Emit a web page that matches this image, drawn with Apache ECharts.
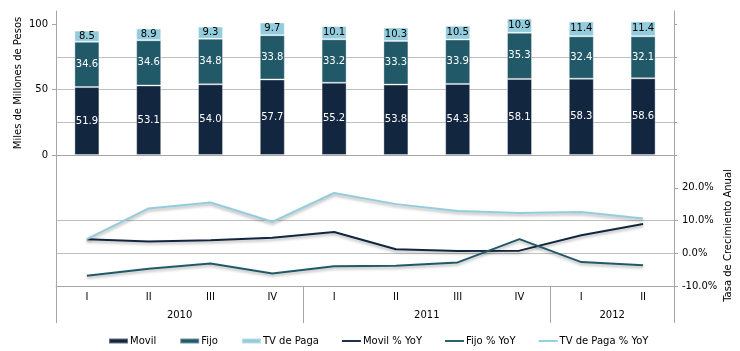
<!DOCTYPE html>
<html>
<head>
<meta charset="utf-8">
<script src="https://cdn.jsdelivr.net/npm/echarts@6/dist/echarts.min.js"></script>
<style>
  html, body { margin: 0; padding: 0; background: #fff; }
  #main { width: 740px; height: 351px; }
</style>
</head>
<body>
<div id="main"></div>
<script>
// categorias (trimestres) y años
const categories = ['I', 'II', 'III', 'IV', 'I', 'II', 'III', 'IV', 'I', 'II'];
const years = ['2010', '2011', '2012'];
const yearCounts = [4, 4, 2];

// ingresos, miles de millones de pesos
const movil = [51.9, 53.1, 54.0, 57.7, 55.2, 53.8, 54.3, 58.1, 58.3, 58.6];
const fijo = [34.6, 34.6, 34.8, 33.8, 33.2, 33.3, 33.9, 35.3, 32.4, 32.1];
const tvPaga = [8.5, 8.9, 9.3, 9.7, 10.1, 10.3, 10.5, 10.9, 11.4, 11.4];

// crecimiento anual, %
const movilYoY = [4.3, 3.6, 4.0, 4.7, 6.5, 1.2, 0.7, 0.8, 5.5, 8.9];
const fijoYoY = [-6.9, -4.7, -3.1, -6.2, -4.0, -3.8, -2.8, 4.3, -2.7, -3.7];
const tvPagaYoY = [4.3, 13.7, 15.5, 9.6, 18.4, 15.0, 12.9, 12.3, 12.6, 10.6];

// ticks
const leftTicks = [0, 50, 100];
const leftGrid = [0, 25, 50, 75, 100];
const rightTicks = [-10, 0, 10, 20];

// limites y centros de cada año (en unidades de categoria)
const yearBounds = [0];
const yearCenters = [];
yearCounts.forEach(function (n, i) {
    yearCenters.push(yearBounds[i] + n / 2);
    yearBounds.push(yearBounds[i] + n);
});

const font = 'DejaVu Sans';
const axisGray = '#a6a6a6';
const gridGray = '#bfbfbf';
const cMovil = '#13263f';
const cFijo = '#215968';
const cTv = '#93cddd';
const lineIcon = 'path://M0,0L20,0L20,2L0,2Z';

const myChart = echarts.init(document.getElementById('main'));

const barLabel = function (color) {
    return {
        show: true,
        position: 'inside',
        color: color,
        fontFamily: font,
        fontSize: 10,
        formatter: function (p) { return p.value.toFixed(1); }
    };
};

const lineSeries = function (name, data, color) {
    return {
        name: name,
        type: 'line',
        xAxisIndex: 1,
        yAxisIndex: 3,
        data: data,
        symbol: 'none',
        color: color,
        lineStyle: {
            width: 2,
            color: color,
            shadowColor: 'rgba(0,0,0,0.3)',
            shadowBlur: 3,
            shadowOffsetY: 2
        }
    };
};

const option = {
    animation: false,
    backgroundColor: '#fff',
    textStyle: { fontFamily: font },
    grid: [
        { left: 56, right: 66, top: 11, height: 144, outerBoundsMode: 'none' },
        { left: 56, right: 66, top: 155, height: 131, outerBoundsMode: 'none' }
    ],
    legend: {
        left: 103,
        top: 331,
        itemWidth: 19,
        itemHeight: 5,
        itemGap: 23,
        textStyle: { fontFamily: font, fontSize: 10, color: '#000', padding: [0, 0, 0, -3] },
        data: [
            { name: 'Movil', icon: 'rect' },
            { name: 'Fijo', icon: 'rect' },
            { name: 'TV de Paga', icon: 'rect' },
            { name: 'Movil % YoY', icon: lineIcon },
            { name: 'Fijo % YoY', icon: lineIcon },
            { name: 'TV de Paga % YoY', icon: lineIcon }
        ]
    },
    xAxis: [
        {
            type: 'category',
            gridIndex: 0,
            data: categories,
            axisLine: { lineStyle: { color: axisGray } },
            axisTick: { length: 3, lineStyle: { color: axisGray } },
            axisLabel: { show: false }
        },
        {
            type: 'category',
            gridIndex: 1,
            data: categories,
            position: 'bottom',
            axisLine: { onZero: false, lineStyle: { color: axisGray } },
            axisTick: { length: 18, lineStyle: { color: axisGray } },
            axisLabel: { margin: 6, color: '#000', fontFamily: font, fontSize: 10 }
        },
        {
            type: 'value',
            gridIndex: 1,
            min: 0,
            max: categories.length,
            position: 'bottom',
            axisLine: { show: false, onZero: false },
            splitLine: { show: false },
            axisTick: { show: true, length: 37, customValues: yearBounds, lineStyle: { color: axisGray } },
            axisLabel: {
                margin: 24,
                color: '#000',
                fontFamily: font,
                fontSize: 10,
                customValues: yearCenters,
                formatter: function (v) {
                    const i = yearCenters.indexOf(v);
                    return i >= 0 ? years[i] : '';
                }
            }
        }
    ],
    yAxis: [
        {
            type: 'value',
            gridIndex: 0,
            position: 'left',
            min: 0,
            max: 110,
            interval: 25,
            name: 'Miles de Millones de Pesos',
            nameLocation: 'middle',
            nameRotate: 90,
            nameGap: 33,
            nameMoveOverlap: false,
            nameTextStyle: { color: '#000', fontFamily: font, fontSize: 10 },
            axisLine: { show: true, lineStyle: { color: axisGray } },
            axisTick: { show: true, length: 4, customValues: leftTicks, lineStyle: { color: axisGray } },
            axisLabel: { color: '#000', fontFamily: font, fontSize: 10, customValues: leftTicks },
            splitLine: { show: false }
        },
        {
            type: 'value',
            gridIndex: 0,
            position: 'right',
            min: 0,
            max: 110,
            interval: 25,
            axisLine: { show: true, lineStyle: { color: axisGray } },
            axisTick: { show: true, length: 3, customValues: leftGrid, lineStyle: { color: axisGray } },
            axisLabel: { show: false },
            splitLine: { show: true, showMinLine: false, showMaxLine: false, lineStyle: { color: gridGray } }
        },
        {
            type: 'value',
            gridIndex: 1,
            position: 'left',
            min: -10,
            max: 30,
            interval: 10,
            axisLine: { show: true, lineStyle: { color: axisGray } },
            axisTick: { show: false },
            axisLabel: { show: false },
            splitLine: { show: false }
        },
        {
            type: 'value',
            gridIndex: 1,
            position: 'right',
            min: -10,
            max: 30,
            interval: 10,
            name: 'Tasa de Crecimiento Anual',
            nameLocation: 'middle',
            nameRotate: 90,
            nameGap: 49,
            nameMoveOverlap: false,
            nameTextStyle: { color: '#000', fontFamily: font, fontSize: 10, padding: [0, 30, 0, 0] },
            axisLine: { show: true, lineStyle: { color: axisGray } },
            axisTick: { show: true, length: 4, customValues: rightTicks, lineStyle: { color: axisGray } },
            axisLabel: {
                color: '#000',
                fontFamily: font,
                fontSize: 10,
                customValues: rightTicks,
                formatter: function (v) { return v.toFixed(1) + '%'; }
            },
            splitLine: { show: true, showMinLine: false, showMaxLine: false, lineStyle: { color: gridGray } }
        }
    ],
    series: [
        {
            name: 'Movil', type: 'bar', stack: 'ingresos', xAxisIndex: 0, yAxisIndex: 0,
            barWidth: 25, data: movil, color: cMovil,
            itemStyle: { color: cMovil, borderColor: 'rgba(255,255,255,0.35)', borderWidth: 1 },
            label: barLabel('#fff')
        },
        {
            name: 'Fijo', type: 'bar', stack: 'ingresos', xAxisIndex: 0, yAxisIndex: 0,
            barWidth: 25, data: fijo, color: cFijo,
            itemStyle: { color: cFijo, borderColor: 'rgba(255,255,255,0.35)', borderWidth: 1 },
            label: barLabel('#fff')
        },
        {
            name: 'TV de Paga', type: 'bar', stack: 'ingresos', xAxisIndex: 0, yAxisIndex: 0,
            barWidth: 25, data: tvPaga, color: cTv,
            itemStyle: { color: cTv, borderColor: 'rgba(255,255,255,0.35)', borderWidth: 1 },
            label: barLabel('#000')
        },
        lineSeries('Movil % YoY', movilYoY, cMovil),
        lineSeries('Fijo % YoY', fijoYoY, cFijo),
        lineSeries('TV de Paga % YoY', tvPagaYoY, cTv)
    ]
};

option && myChart.setOption(option);
</script>
</body>
</html>
